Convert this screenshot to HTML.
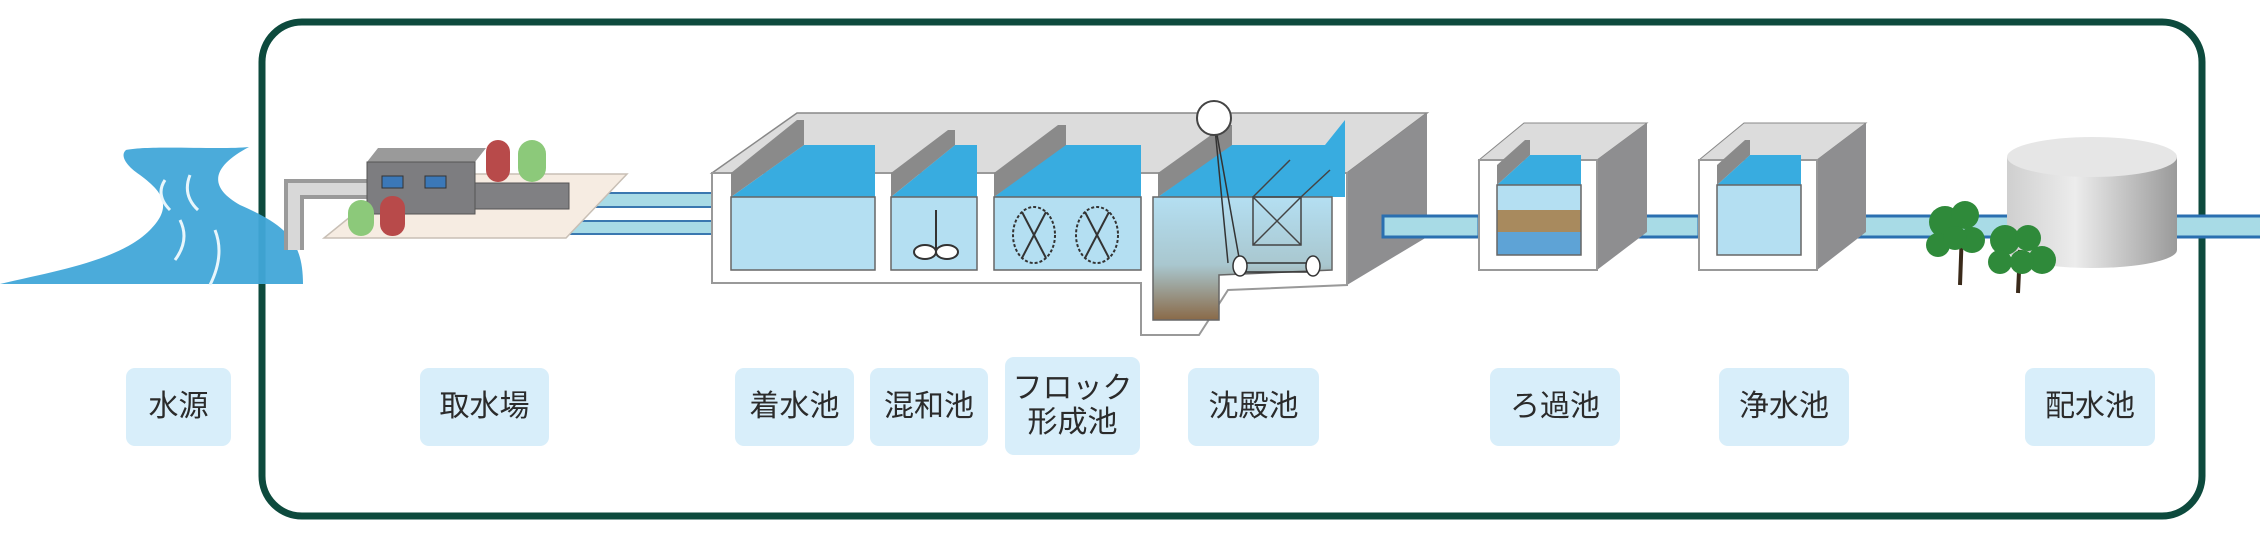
<!DOCTYPE html>
<html><head><meta charset="utf-8"><style>
html,body{margin:0;padding:0;background:#fff;}
.lab{position:absolute;background:#d8eefa;border-radius:9px;color:#2b2b2b;font-family:"Liberation Sans","Noto Sans CJK JP",sans-serif;font-size:30px;display:flex;align-items:center;justify-content:center;text-align:center;line-height:1.15;}
</style></head><body>
<div style="position:relative;width:2260px;height:540px;overflow:hidden;">
<svg width="2260" height="540" style="position:absolute;left:0;top:0">
<rect x="262" y="22" width="1940" height="494" rx="40" ry="40" fill="none" stroke="#0d4a3d" stroke-width="7"/>
<path d="M126,150 C150,145 220,150 249,147 C215,165 205,185 240,205 C285,225 303,240 303,284 L0,284 C60,270 120,260 150,230 C175,205 160,190 140,175 C125,165 120,155 126,150 Z" fill="#41a7d8" opacity="0.95"/>
<path d="M165,180 q-10,15 5,30 M190,175 q-8,20 8,35 M215,230 q10,25 -5,55 M180,220 q10,20 -5,40" stroke="#e8f6fc" stroke-width="3" fill="none"/>
<rect x="555" y="193" width="158" height="14" fill="#a8dbe6" stroke="#3a78b0" stroke-width="2"/>
<rect x="555" y="221" width="158" height="13" fill="#a8dbe6" stroke="#3a78b0" stroke-width="2"/>
<polygon points="324,238 566,238 627,174 403,174" fill="#f6ece2" stroke="#c8bfb5" stroke-width="1.5"/>
<path d="M294,250 L294,189 L367,189" stroke="#9a9a9a" stroke-width="20" fill="none"/>
<path d="M294,250 L294,189 L367,189" stroke="#d8d8d8" stroke-width="12" fill="none"/>
<rect x="486" y="140" width="24" height="42" rx="12" fill="#b84a4a"/>
<rect x="518" y="140" width="28" height="42" rx="14" fill="#8cc97a"/>
<polygon points="367,162 378,148 486,148 475,162" fill="#9a9a9a"/>
<rect x="367" y="162" width="108" height="52" fill="#7d7d80" stroke="#555" stroke-width="1"/>
<rect x="382" y="176" width="21" height="12" fill="#3b78b8" stroke="#333" stroke-width="1"/>
<rect x="425" y="176" width="21" height="12" fill="#3b78b8" stroke="#333" stroke-width="1"/>
<rect x="475" y="183" width="94" height="26" fill="#808083" stroke="#555" stroke-width="1"/>
<rect x="348" y="200" width="26" height="36" rx="13" fill="#8cc97a"/>
<rect x="380" y="196" width="25" height="40" rx="12" fill="#b84a4a"/>
<polygon points="712,173 797,113 1427,113 1347,173" fill="#dcdcdc" stroke="#888" stroke-width="1.5"/>
<polygon points="1347,173 1427,113 1427,237 1347,285" fill="#8e8e90"/>
<path d="M712,173 L1347,173 L1347,285 L1228,290 L1199,335 L1141,335 L1141,283 L712,283 Z" fill="#fff" stroke="#999" stroke-width="2"/>
<polygon points="731,197 804,145 875,145 875,197" fill="#38ace0"/>
<polygon points="731,197 731,173 797,120 804,120 804,145" fill="#8a8a8a"/>
<rect x="731" y="197" width="144" height="73" fill="#b4dff2" stroke="#666" stroke-width="1.5"/>
<polygon points="891,197 955,145 977,145 977,197" fill="#38ace0"/>
<polygon points="891,197 891,173 948,130 955,130 955,145" fill="#8a8a8a"/>
<rect x="891" y="197" width="86" height="73" fill="#b4dff2" stroke="#666" stroke-width="1.5"/>
<line x1="936" y1="210" x2="936" y2="250" stroke="#333" stroke-width="2"/>
<ellipse cx="925" cy="252" rx="11" ry="7" fill="#fff" stroke="#333" stroke-width="2"/>
<ellipse cx="947" cy="252" rx="11" ry="7" fill="#fff" stroke="#333" stroke-width="2"/>
<polygon points="994,197 1063,145 1141,145 1141,197" fill="#38ace0"/>
<polygon points="994,197 994,173 1058,125 1066,125 1066,145" fill="#8a8a8a"/>
<rect x="994" y="197" width="147" height="73" fill="#b4dff2" stroke="#666" stroke-width="1.5"/>
<g stroke="#333" stroke-width="2" fill="none"><ellipse cx="1034" cy="235" rx="21" ry="28" stroke-dasharray="3,2"/><line x1="1022" y1="212" x2="1046" y2="258"/><line x1="1046" y1="212" x2="1022" y2="258"/>
<ellipse cx="1097" cy="235" rx="21" ry="28" stroke-dasharray="3,2"/><line x1="1085" y1="212" x2="1109" y2="258"/><line x1="1109" y1="212" x2="1085" y2="258"/></g>
<polygon points="1158,197 1230,145 1325,145 1345,120 1345,197" fill="#38ace0"/>
<polygon points="1158,197 1158,173 1225,125 1232,125 1232,145" fill="#8a8a8a"/>
<defs><linearGradient id="sl" x1="0" y1="0" x2="0" y2="1"><stop offset="0" stop-color="#b4dff2"/><stop offset="0.55" stop-color="#a9c7cf"/><stop offset="1" stop-color="#8a6a48"/></linearGradient></defs>
<path d="M1158,197 L1332,197 L1332,270 L1219,275 L1219,320 L1153,320 L1153,197 Z" fill="url(#sl)" stroke="#666" stroke-width="1.5"/>
<rect x="1253" y="197" width="48" height="48" fill="none" stroke="#444" stroke-width="1.5"/>
<path d="M1253,197 L1301,245 M1301,197 L1253,245 M1253,197 L1290,160 M1301,197 L1330,170" stroke="#444" stroke-width="1.5"/>
<path d="M1214,118 L1240,263 M1214,118 L1228,263 M1240,263 L1313,263 M1240,272 L1313,272" stroke="#333" stroke-width="1.5"/>
<ellipse cx="1240" cy="266" rx="7" ry="10" fill="#fff" stroke="#333" stroke-width="1.5"/>
<ellipse cx="1313" cy="266" rx="7" ry="10" fill="#fff" stroke="#333" stroke-width="1.5"/>
<circle cx="1214" cy="118" r="17" fill="#fff" stroke="#444" stroke-width="2"/>
<rect x="1383" y="216" width="96" height="21" fill="#a8dbe6" stroke="#2a6fb0" stroke-width="3"/>
<rect x="1597" y="216" width="102" height="21" fill="#a8dbe6" stroke="#2a6fb0" stroke-width="3"/>
<rect x="1817" y="216" width="450" height="21" fill="#a8dbe6" stroke="#2a6fb0" stroke-width="3"/>
<polygon points="1479,160 1524,123 1647,123 1597,160" fill="#dcdcdc" stroke="#888"/>
<polygon points="1597,160 1647,123 1647,232 1597,270" fill="#8e8e90"/>
<rect x="1479" y="160" width="118" height="110" fill="#fff" stroke="#999" stroke-width="2"/>
<polygon points="1497,185 1530,155 1581,155 1581,185" fill="#38ace0"/>
<polygon points="1497,185 1497,165 1525,140 1530,140 1530,155" fill="#8a8a8a"/>
<rect x="1497" y="185" width="84" height="25" fill="#b4dff2"/>
<rect x="1497" y="210" width="84" height="22" fill="#a88a5e"/>
<rect x="1497" y="232" width="84" height="23" fill="#5ea3d6"/>
<rect x="1497" y="185" width="84" height="70" fill="none" stroke="#666" stroke-width="1.5"/>
<polygon points="1699,160 1744,123 1866,123 1817,160" fill="#dcdcdc" stroke="#888"/>
<polygon points="1817,160 1866,123 1866,232 1817,270" fill="#8e8e90"/>
<rect x="1699" y="160" width="118" height="110" fill="#fff" stroke="#999" stroke-width="2"/>
<polygon points="1717,185 1750,155 1801,155 1801,185" fill="#38ace0"/>
<polygon points="1717,185 1717,165 1745,140 1750,140 1750,155" fill="#8a8a8a"/>
<rect x="1717" y="185" width="84" height="70" fill="#b4dff2" stroke="#666" stroke-width="1.5"/>
<defs><linearGradient id="cy" x1="0" y1="0" x2="1" y2="0"><stop offset="0" stop-color="#cfcfcf"/><stop offset="0.4" stop-color="#ececec"/><stop offset="1" stop-color="#9a9a9a"/></linearGradient></defs>
<path d="M2007,157 L2007,250 A85,18 0 0 0 2177,250 L2177,157 Z" fill="url(#cy)"/>
<ellipse cx="2092" cy="157" rx="85" ry="20" fill="#e6e6e6"/>
<path d="M1962,230 L1960,285 M2020,250 L2018,293" stroke="#3a2a1a" stroke-width="4"/>
<g fill="#2f8a3a"><circle cx="1945" cy="222" r="16"/><circle cx="1965" cy="215" r="14"/><circle cx="1938" cy="245" r="12"/><circle cx="1972" cy="240" r="13"/><circle cx="1955" cy="238" r="12"/><circle cx="2005" cy="240" r="15"/><circle cx="2028" cy="238" r="13"/><circle cx="2042" cy="260" r="14"/><circle cx="2000" cy="262" r="12"/><circle cx="2022" cy="262" r="12"/></g>
</svg>
<div class="lab" style="left:126px;top:368px;width:105px;height:78px;">水源</div>
<div class="lab" style="left:420px;top:368px;width:129px;height:78px;">取水場</div>
<div class="lab" style="left:735px;top:368px;width:119px;height:78px;">着水池</div>
<div class="lab" style="left:870px;top:368px;width:118px;height:78px;">混和池</div>
<div class="lab" style="left:1005px;top:357px;width:135px;height:98px;">フロック<br>形成池</div>
<div class="lab" style="left:1188px;top:368px;width:131px;height:78px;">沈殿池</div>
<div class="lab" style="left:1490px;top:368px;width:130px;height:78px;">ろ過池</div>
<div class="lab" style="left:1719px;top:368px;width:130px;height:78px;">浄水池</div>
<div class="lab" style="left:2025px;top:368px;width:130px;height:78px;">配水池</div>
</div>
</body></html>
